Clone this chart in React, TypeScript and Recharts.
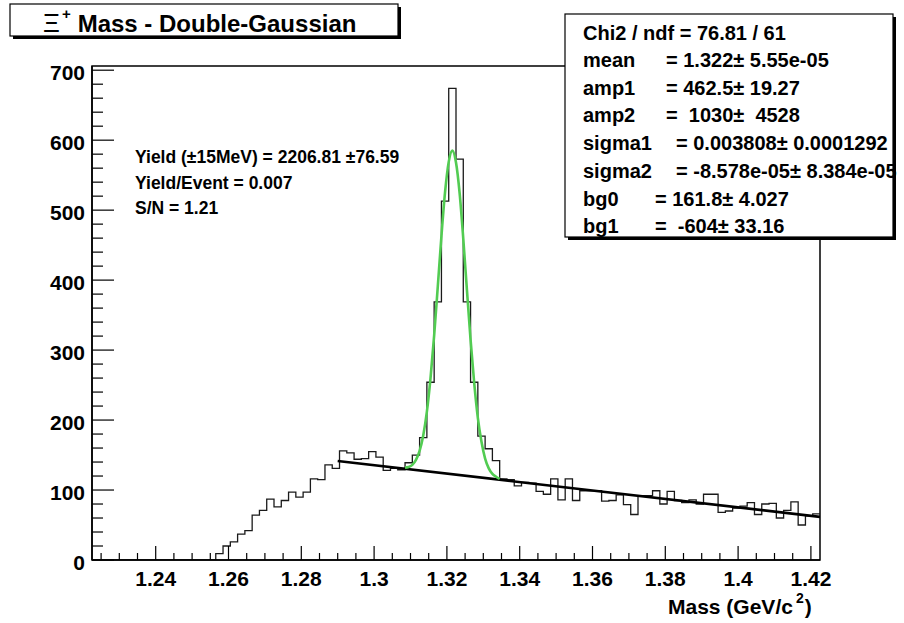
import React from 'react';
import { ComposedChart, Line, XAxis, YAxis, ReferenceArea } from 'recharts';

// Histogram: 100 bins of 0.002 GeV starting at 1.2225
const binStart = 1.2225;
const binWidth = 0.002;
const counts = [
  0, 0, 0, 0, 0, 0, 0, 0, 0, 0,
  0, 0, 0, 0, 0, 0, 0, 9, 20, 26,
  37, 42, 64, 71, 87, 76, 85, 97, 90, 97,
  116, 115, 136, 131, 156, 153, 144, 145, 155, 147,
  128, 131, 129, 139, 150, 175, 254, 369, 513, 674,
  573, 369, 254, 177, 159, 142, 116, 115, 106, 111,
  110, 98, 94, 116, 86, 116, 85, 99, 99, 99,
  84, 85, 93, 79, 65, 92, 92, 99, 80, 98,
  85, 82, 86, 80, 94, 94, 68, 70, 74, 77,
  82, 65, 80, 81, 60, 71, 83, 50, 63, 66,
];

// Double-Gaussian fit curve (green)
const fitMass = [
  1.3085, 1.3095, 1.3105, 1.3115, 1.3125, 1.3135, 1.3145, 1.3155, 1.3165,
  1.3175, 1.3185, 1.3195, 1.3205, 1.3215, 1.3225, 1.3235, 1.3245, 1.3255,
  1.3265, 1.3275, 1.3285, 1.3295, 1.3305, 1.3315, 1.3325, 1.3335, 1.3345,
];
const fitValues = [
  132, 133, 136, 143, 156, 178, 212, 260, 321,
  391, 463, 526, 569, 585, 568, 524, 459, 386,
  315, 253, 203, 169, 145, 131, 123, 119, 116,
];

// Linear background (black)
const bgMass = [1.29, 1.4225];
const bgValues = [141.6, 61.6];

const xDomain = [1.2225, 1.4225];
const yDomain = [0, 706];

const xMajorTicks = [1.24, 1.26, 1.28, 1.3, 1.32, 1.34, 1.36, 1.38, 1.4, 1.42];
const xMajorLabels = ['1.24', '1.26', '1.28', '1.3', '1.32', '1.34', '1.36', '1.38', '1.4', '1.42'];
const yMajorTicks = [0, 100, 200, 300, 400, 500, 600, 700];
const yMajorLabels = ['0', '100', '200', '300', '400', '500', '600', '700'];

const titleText = ' Mass - Double-Gaussian';
const xAxisTitle = 'Mass (GeV/c';

const statsHeader = 'Chi2 / ndf = 76.81 / 61';
const statsLabels = ['mean', 'amp1', 'amp2', 'sigma1', 'sigma2', 'bg0', 'bg1'];
const statsValues = [
  '= 1.322\u00b1 5.55e-05',
  '= 462.5\u00b1 19.27',
  '=  1030\u00b1  4528',
  '= 0.003808\u00b1 0.0001292',
  '= -8.578e-05\u00b1 8.384e-05',
  '= 161.8\u00b1 4.027',
  '=  -604\u00b1 33.16',
];
const statsEqX = [666, 666, 666, 676, 676, 655, 655];

const yieldLines = [
  'Yield (\u00b115MeV) = 2206.81 \u00b176.59',
  'Yield/Event = 0.007',
  'S/N = 1.21',
];

const FONT = '"Liberation Sans", Arial, Helvetica, sans-serif';

const histData = counts.map((c, i) => ({ x: binStart + i * binWidth, y: c }));
histData.push({ x: binStart + counts.length * binWidth, y: counts[counts.length - 1] });
const fitData = fitMass.map((m, i) => ({ x: m, y: fitValues[i] }));
const bgData = bgMass.map((m, i) => ({ x: m, y: bgValues[i] }));

const xTicksAll: number[] = [];
for (let k = 0; k <= 39; k++) xTicksAll.push(Math.round((1.225 + k * 0.005) * 10000) / 10000);
const yTicksAll: number[] = [];
for (let k = 0; k <= 35; k++) yTicksAll.push(k * 20);

const XTick = (props: any) => {
  const { x, y, payload } = props;
  const v = payload.value;
  const idx = xMajorTicks.findIndex((t) => Math.abs(t - v) < 1e-6);
  const major = idx >= 0;
  return (
    <g>
      <line x1={x} x2={x} y1={y} y2={y - (major ? 14 : 7)} stroke="#000" strokeWidth={1.2} />
      {major && (
        <text x={x} y={y + 26} textAnchor="middle" fontSize={21} fontWeight="bold" fontFamily={FONT} fill="#000">
          {xMajorLabels[idx]}
        </text>
      )}
    </g>
  );
};

const YTick = (props: any) => {
  const { x, y, payload } = props;
  const v = payload.value;
  const idx = yMajorTicks.findIndex((t) => Math.abs(t - v) < 1e-6);
  const major = idx >= 0;
  return (
    <g>
      <line x1={x} x2={x + (major ? 22 : 11)} y1={y} y2={y} stroke="#000" strokeWidth={1.2} />
      {major && (
        <text x={x - 7} y={y + 9.5} textAnchor="end" fontSize={21} fontWeight="bold" fontFamily={FONT} fill="#000">
          {yMajorLabels[idx]}
        </text>
      )}
    </g>
  );
};

export default function App() {
  return (
    <div style={{ position: 'absolute', left: 0, top: 0, width: 904, height: 623, background: '#fff' }}>
      <ComposedChart
        width={904}
        height={623}
        margin={{ top: 66, right: 84, bottom: 0, left: 0 }}
      >
        <XAxis
          type="number"
          dataKey="x"
          domain={xDomain}
          allowDataOverflow
          ticks={xTicksAll}
          interval={0}
          tickSize={0}
          tickMargin={0}
          tickLine={false}
          tick={<XTick />}
          height={63}
          axisLine={{ stroke: '#000', strokeWidth: 1.5 }}
        />
        <YAxis
          type="number"
          dataKey="y"
          domain={yDomain}
          allowDataOverflow
          ticks={yTicksAll}
          interval={0}
          tickSize={0}
          tickMargin={0}
          tickLine={false}
          tick={<YTick />}
          width={92}
          axisLine={{ stroke: '#000', strokeWidth: 1.5 }}
        />
        <ReferenceArea
          x1={xDomain[0]}
          x2={xDomain[1]}
          y1={yDomain[0]}
          y2={yDomain[1]}
          fill="none"
          fillOpacity={0}
          stroke="#000"
          strokeWidth={1.5}
          ifOverflow="visible"
        />
        <Line
          data={histData}
          dataKey="y"
          type="stepAfter"
          stroke="#1a1a1a"
          strokeWidth={1.3}
          dot={false}
          activeDot={false}
          isAnimationActive={false}
        />
        <Line
          data={bgData}
          dataKey="y"
          type="linear"
          stroke="#000"
          strokeWidth={2.6}
          dot={false}
          activeDot={false}
          isAnimationActive={false}
        />
        <Line
          data={fitData}
          dataKey="y"
          type="monotone"
          stroke="#52cc52"
          strokeWidth={2.6}
          dot={false}
          activeDot={false}
          isAnimationActive={false}
        />
      </ComposedChart>

      <svg
        width={904}
        height={623}
        style={{ position: 'absolute', left: 0, top: 0, pointerEvents: 'none' }}
        fontFamily={FONT}
      >
        {/* Title box */}
        <rect x={13} y={7} width={388} height={32} fill="#000" />
        <rect x={10} y={4} width={388} height={32} fill="#fff" stroke="#000" strokeWidth={1.2} />
        <text x={43} y={31.5} fontSize={26} fill="#000">
          {'\u039E'}
        </text>
        <text x={62} y={19} fontSize={15} fontWeight="bold" fill="#000">+</text>
        <text x={71} y={31.5} fontSize={24} fontWeight="bold" fill="#000" style={{ whiteSpace: 'pre' }} xmlSpace="preserve">
          {titleText}
        </text>

        {/* Stats box */}
        <rect x={568} y={17} width={328} height={223} fill="#000" />
        <rect x={565} y={14} width={328} height={223} fill="#fff" stroke="#000" strokeWidth={1.2} />
        <text x={583} y={39.5} fontSize={20} fontWeight="bold" fill="#000">
          {statsHeader}
        </text>
        {statsLabels.map((lab, i) => (
          <g key={lab}>
            <text x={583} y={67 + i * 27.7} fontSize={20} fontWeight="bold" fill="#000">
              {lab}
            </text>
            <text
              x={statsEqX[i]}
              y={67 + i * 27.7}
              fontSize={20}
              fontWeight="bold"
              fill="#000"
              style={{ whiteSpace: 'pre' }}
              xmlSpace="preserve"
            >
              {statsValues[i]}
            </text>
          </g>
        ))}

        {/* Yield annotations */}
        {yieldLines.map((t, i) => (
          <text key={i} x={135} y={163 + i * 25.5} fontSize={17.5} fontWeight="bold" fill="#000">
            {t}
          </text>
        ))}

        {/* X axis title */}
        <text x={668} y={614} fontSize={21} fontWeight="bold" fill="#000">
          {xAxisTitle}
          <tspan dx={3} dy={-11} fontSize={14}>2</tspan>
          <tspan dx={1} dy={11}>)</tspan>
        </text>
      </svg>
    </div>
  );
}
